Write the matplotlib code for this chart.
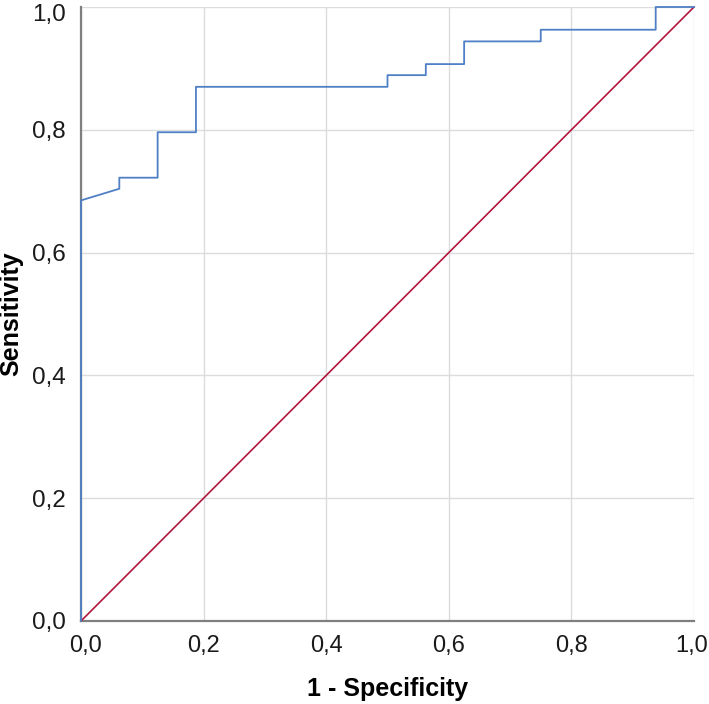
import matplotlib
matplotlib.use("Agg")
import matplotlib.pyplot as plt
from matplotlib.transforms import ScaledTranslation

# ROC curve points (1 - specificity, sensitivity)
fpr = [0.0, 0.0, 0.0625, 0.0625, 0.125, 0.125, 0.1875, 0.1875, 0.5, 0.5,
       0.5625, 0.5625, 0.625, 0.625, 0.75, 0.75, 0.9375, 0.9375, 1.0]
tpr = [0.0, 0.685, 0.704, 0.722, 0.722, 0.796, 0.796, 0.870, 0.870, 0.889,
       0.889, 0.907, 0.907, 0.944, 0.944, 0.963, 0.963, 1.0, 1.0]
ref_x = [0.0, 1.0]
ref_y = [0.0, 1.0]
ticks = [0.0, 0.2, 0.4, 0.6, 0.8, 1.0]
tick_labels = ["0,0", "0,2", "0,4", "0,6", "0,8", "1,0"]

plt.rcParams['font.family'] = ['Liberation Sans', 'DejaVu Sans']

W, H = 709, 704
fig = plt.figure(figsize=(W/100, H/100), dpi=100)
ax = fig.add_axes([81/W, 1 - 621/H, (694-81)/W, (621-7)/H])

ax.set_xlim(0, 1)
ax.set_ylim(0, 1)
ax.set_xticks(ticks)
ax.set_yticks(ticks)
ax.set_xticklabels(tick_labels)
ax.set_yticklabels(tick_labels)
ax.grid(True, color='#dcdcdc', linewidth=1.0)
ax.set_axisbelow(True)

for s in ['top', 'right']:
    ax.spines[s].set_visible(False)
for s in ['left', 'bottom']:
    ax.spines[s].set_color('#7f7f7f')
    ax.spines[s].set_linewidth(1.6)

ax.tick_params(axis='both', length=0, colors='#1a1a1a')
ax.tick_params(axis='x', pad=10, labelsize=17)
ax.tick_params(axis='y', pad=11, labelsize=17.5)

# shift the top y tick label down a bit so it stays inside the figure
top_lbl = ax.get_yticklabels()[-1]
top_lbl.set_transform(top_lbl.get_transform() +
                      ScaledTranslation(0, -6/100, fig.dpi_scale_trans))
# shift the first x tick label slightly right, the last slightly left
first_lbl = ax.get_xticklabels()[0]
first_lbl.set_transform(first_lbl.get_transform() +
                        ScaledTranslation(5/100, 0, fig.dpi_scale_trans))
right_lbl = ax.get_xticklabels()[-1]
right_lbl.set_transform(right_lbl.get_transform() +
                        ScaledTranslation(-2/100, 0, fig.dpi_scale_trans))

ax.plot(ref_x, ref_y, color='#b0173f', linewidth=1.2, clip_on=False, zorder=3)
ax.plot(fpr, tpr, color='#4f7fc4', linewidth=1.3, clip_on=False, zorder=4)

fig.text(388/W, 1 - 696/H, "1 - Specificity", fontsize=18, fontweight='bold',
         ha='center', va='baseline')
fig.text(11.5/W, 1 - 314/H, "Sensitivity", fontsize=18, fontweight='bold',
         ha='center', va='center', rotation=90)

fig.savefig("out.png", dpi=100)
